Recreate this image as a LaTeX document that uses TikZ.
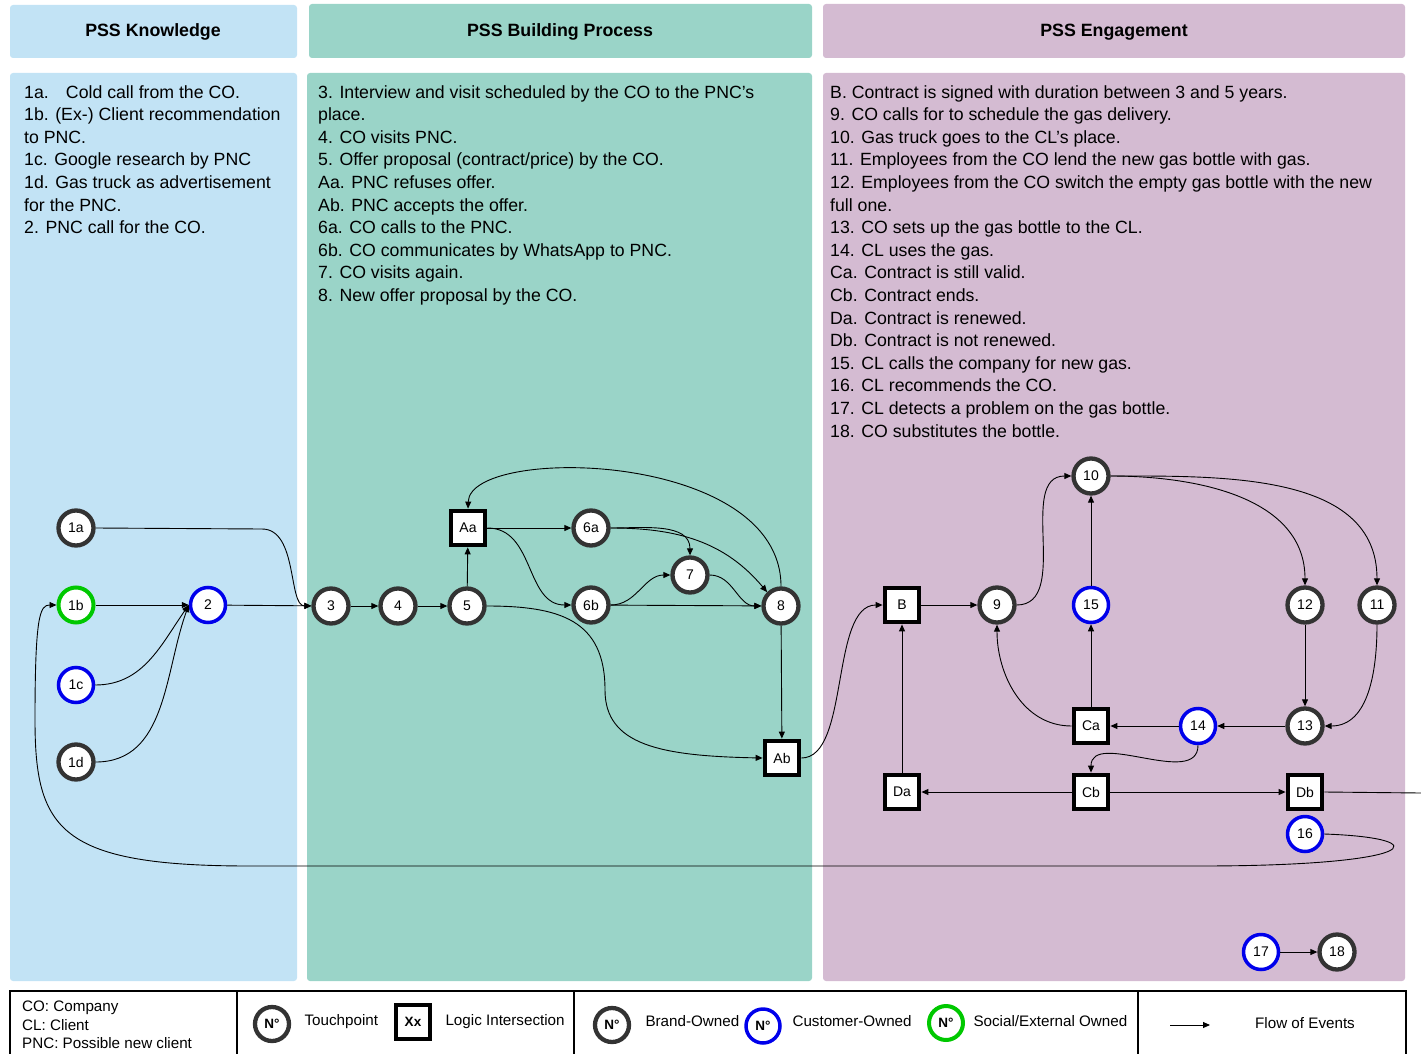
\documentclass[tikz,border=0pt]{standalone}
\usepackage{fontspec}
\setmainfont{Liberation Sans}
\usetikzlibrary{arrows.meta}

\definecolor{knowbg}{RGB}{194,227,245}
\definecolor{buildbg}{RGB}{154,212,200}
\definecolor{engbg}{RGB}{212,187,210}
\definecolor{brandcol}{RGB}{51,51,51}
\definecolor{custcol}{RGB}{0,0,235}
\definecolor{socialcol}{RGB}{0,200,0}

\newcommand{\txtfont}{\fontsize{17.7}{22.6}\selectfont}
\newcommand{\legfont}{\fontsize{15.2}{18.5}\selectfont}

\tikzset{
  tp/.style={circle, draw=brandcol, line width=4.3pt, fill=white,
    minimum size=35pt, inner sep=0pt, font=\fontsize{14}{14}\selectfont},
  cust/.style={tp, draw=custcol, line width=3.5pt},
  soc/.style={tp, draw=socialcol, line width=4pt},
  logic/.style={rectangle, draw=black, line width=4.8pt, fill=white,
    minimum size=34pt, inner sep=0pt, font=\fontsize{14}{14}\selectfont},
  head/.style={rounded corners=3pt, font=\fontsize{17.8}{20}\selectfont\bfseries},
  block/.style={anchor=north west, inner sep=0pt, align=left, font=\txtfont},
  legsym/.style={minimum size=34pt, font=\fontsize{13.5}{13.5}\selectfont\bfseries},
  flow/.style={->, line width=0.9pt}
}

\begin{document}
\begin{tikzpicture}[x=1pt, y=-1pt, >={Triangle[length=7pt,width=6pt]}]
  \useasboundingbox (0,0) rectangle (1421,1054);
  \clip (0,0) rectangle (1421,1054);
  % lanes
  \fill[knowbg, rounded corners=3pt] (10,5) rectangle (297,58);
  \fill[buildbg, rounded corners=3pt] (309,4) rectangle (812,58);
  \fill[engbg, rounded corners=3pt] (823,4) rectangle (1405,58);
  \node[head] (hknow) at (153,32) {PSS Knowledge};
  \node[head] (hbuild) at (560,32) {PSS Building Process};
  \node[head] (heng) at (1114,32) {PSS Engagement};
  \fill[knowbg, rounded corners=3pt] (10,73) rectangle (297,981);
  \fill[buildbg, rounded corners=3pt] (307,73) rectangle (812,981);
  \fill[engbg, rounded corners=3pt] (823,73) rectangle (1405,981);

  % event lists
  \node[block] (tknow) at (24,85) {1a.\hspace{0.6em} Cold call from the CO.\\
    1b. (Ex-) Client recommendation\\ to PNC.\\ 1c. Google research by PNC\\
    1d. Gas truck as advertisement\\ for the PNC.\\ 2. PNC call for the CO.};
  \node[block] (tbuild) at (318,85) {3. Interview and visit scheduled by the CO to the PNC's\\
    place.\\ 4. CO visits PNC.\\ 5. Offer proposal (contract/price) by the CO.\\
    Aa. PNC refuses offer.\\ Ab. PNC accepts the offer.\\ 6a. CO calls to the PNC.\\
    6b. CO communicates by WhatsApp to PNC.\\ 7. CO visits again.\\
    8. New offer proposal by the CO.};
  \node[block] (teng) at (830,85) {B. Contract is signed with duration between 3 and 5 years.\\
    9. CO calls for to schedule the gas delivery.\\ 10. Gas truck goes to the CL's place.\\
    11. Employees from the CO lend the new gas bottle with gas.\\
    12. Employees from the CO switch the empty gas bottle with the new\\ full one.\\
    13. CO sets up the gas bottle to the CL.\\ 14. CL uses the gas.\\
    Ca. Contract is still valid.\\ Cb. Contract ends.\\ Da. Contract is renewed.\\
    Db. Contract is not renewed.\\ 15. CL calls the company for new gas.\\
    16. CL recommends the CO.\\ 17. CL detects a problem on the gas bottle.\\
    18. CO substitutes the bottle.};

  % knowledge
  \node[tp] (n1a) at (76,528) {1a};
  \node[soc] (n1b) at (76,605) {1b};
  \node[cust] (n1c) at (76,685) {1c};
  \node[tp] (n1d) at (76,762) {1d};
  \node[cust] (n2) at (208,605) {2};
  % building process
  \node[tp] (n3) at (331,606) {3};
  \node[tp] (n4) at (398,606) {4};
  \node[tp] (n5) at (467,606) {5};
  \node[logic] (Aa) at (468,528) {Aa};
  \node[tp] (n6a) at (591,528) {6a};
  \node[tp] (n6b) at (591,605) {6b};
  \node[tp] (n7) at (690,575) {7};
  \node[tp] (n8) at (781,606) {8};
  \node[logic] (Ab) at (782,758) {Ab};
  % engagement
  \node[logic] (B) at (902,605) {B};
  \node[tp] (n9) at (997,605) {9};
  \node[tp] (n10) at (1091,476) {10};
  \node[cust] (n15) at (1091,605) {15};
  \node[tp] (n12) at (1305,605) {12};
  \node[tp] (n11) at (1377,605) {11};
  \node[tp] (n13) at (1305,726) {13};
  \node[cust] (n14) at (1198,726) {14};
  \node[logic] (Ca) at (1091,726) {Ca};
  \node[logic] (Da) at (902,792) {Da};
  \node[logic] (Cb) at (1091,792) {Cb};
  \node[logic] (Db) at (1305,792) {Db};
  \node[cust] (n16) at (1305,834) {16};
  \node[cust] (n17) at (1261,952) {17};
  \node[tp] (n18) at (1337,952) {18};
  \coordinate (offr) at (1421,793);

  % flow of events
  \draw[flow] (n1a.east) -- (262,529) .. controls (298,529) and (288,606) .. (n3.west);
  \draw[flow] (n1b) -- (n2);
  \draw[flow] (n1c.east) to[out=0,in=235] (n2.west);
  \draw[flow] (n1d.east) to[out=0,in=250] (n2.west);
  \draw[flow] (n2) -- (n3);
  \draw[flow] (n3) -- (n4);
  \draw[flow] (n4) -- (n5);
  \draw[flow] (n5) -- (Aa);
  \draw[flow] (Aa) -- (n6a);
  \draw[flow] (Aa.east) .. controls (535,528) and (525,605) .. (n6b.west);
  \draw[flow] (n6a.east) to[out=0,in=90] (n7.north);
  \draw[flow] (n6a.east) to[out=0,in=130] (n8.north west);
  \draw[flow] (n6b.east) to[out=0,in=180] (n7.west);
  \draw[flow] (n6b) -- (n8);
  \draw[flow] (n7.east) to[out=0,in=180] (n8.west);
  \draw[flow] (n8.north) .. controls (781,450) and (470,445) .. (Aa.north);
  \draw[flow] (n8) -- (Ab);
  \draw[flow] (n5.east) .. controls (560,606) and (605,620) .. (605,690)
    .. controls (605,745) and (660,756) .. (Ab.west);
  \draw[flow] (Ab.east) .. controls (850,758) and (830,605) .. (B.west);
  \draw[flow] (B) -- (n9);
  \draw[flow] (n9.east) to[out=0,in=180] (n10.west);
  \draw[flow] (n15) -- (n10);
  \draw[flow] (Ca) -- (n15);
  \draw[flow] (Ca.west) to[out=180,in=270] (n9.south);
  \draw[flow] (n10.east) to[out=0,in=90] (n12.north);
  \draw[flow] (n10.east) to[out=0,in=90] (n11.north);
  \draw[flow] (n12) -- (n13);
  \draw[flow] (n11.south) to[out=270,in=0] (n13.east);
  \draw[flow] (n13) -- (n14);
  \draw[flow] (n14) -- (Ca);
  \draw[flow] (n14.south) to[out=270,in=90] (Cb.north);
  \draw[flow] (Cb) -- (Da);
  \draw[flow] (Cb) -- (Db);
  \draw[flow] (Da) -- (B);
  \draw[line width=0.9pt] (Db.east) -- (offr);
  \draw[flow] (n16.east) .. controls (1440,838) and (1420,866) .. (1200,866)
    -- (250,866) .. controls (60,866) and (35,830) .. (35,720)
    .. controls (35,615) and (40,605) .. (n1b.west);
  \draw[flow] (n17) -- (n18);

  % legend
  \draw[line width=1.6pt] (10,991) rectangle (1406,1060);
  \draw[line width=1.6pt] (237,991) -- (237,1060);
  \draw[line width=1.6pt] (574,991) -- (574,1060);
  \draw[line width=1.6pt] (1138,991) -- (1138,1060);
  \node[anchor=north west, inner sep=0pt, align=left, font=\legfont] (abbr) at (22,1001)
    {CO: Company\\ CL: Client\\ PNC: Possible new client};
  \node[tp, legsym] (ltp) at (272,1024) {N°};
  \node[anchor=west, font=\legfont] (ltptxt) at (301,1022) {Touchpoint};
  \node[logic, legsym] (llog) at (413,1022) {Xx};
  \node[anchor=west, font=\legfont] (llogtxt) at (442,1022) {Logic Intersection};
  \node[tp, legsym] (lbrand) at (612,1025) {N°};
  \node[anchor=west, font=\legfont] (lbrandtxt) at (642,1021) {Brand-Owned};
  \node[cust, legsym] (lcust) at (763,1026) {N°};
  \node[anchor=west, font=\legfont] (lcusttxt) at (789,1021) {Customer-Owned};
  \node[soc, legsym] (lsoc) at (946,1023) {N°};
  \node[anchor=west, font=\legfont] (lsoctxt) at (970,1021) {Social/External Owned};
  \coordinate (la) at (1170,1025);
  \coordinate (lb) at (1210,1025);
  \draw[flow] (la) -- (lb);
  \node[font=\legfont] (lflow) at (1305,1023) {Flow of Events};
\end{tikzpicture}
\end{document}
